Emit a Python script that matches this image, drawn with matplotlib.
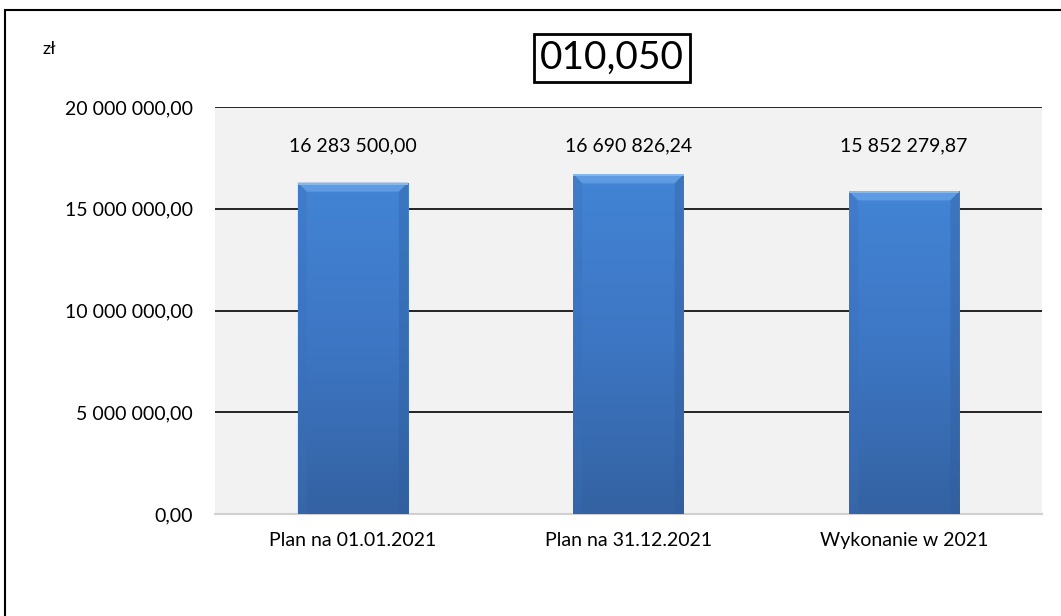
import matplotlib
matplotlib.use("Agg")
import matplotlib.pyplot as plt
import numpy as np
from matplotlib.patches import Rectangle, Polygon
from matplotlib.colors import LinearSegmentedColormap

categories = ["Plan na 01.01.2021", "Plan na 31.12.2021", "Wykonanie w 2021"]
values = [16283500.00, 16690826.24, 15852279.87]
yticks = [0, 5000000, 10000000, 15000000, 20000000]
title = "010,050"
unit = "zł"

plt.rcParams['font.family'] = ['Lato', 'DejaVu Sans']

W, H = 1061, 616
fig = plt.figure(figsize=(W/100, H/100), dpi=100)
fig.patch.set_facecolor("white")

left, right, top, bottom = 215, 1042, 107, 514
ax = fig.add_axes([left/W, 1-bottom/H, (right-left)/W, (bottom-top)/H])
ax.set_facecolor("#F2F2F2")

def fmt(v):
    s = f"{v:,.2f}"
    return s.replace(",", " ").replace(".", ",")

x = np.arange(len(categories))
bars = ax.bar(x, values, width=0.4, color="#4281D3", zorder=3, edgecolor="none")
ax.set_xlim(-0.5, len(categories)-0.5)
ax.set_ylim(0, 20000000)

cmap = LinearSegmentedColormap.from_list("b", ["#3462A2", "#3D76C3", "#4384D5"])
grad = np.linspace(0, 1, 256).reshape(-1, 1)
px_y = 20000000 / (bottom - top)
px_x = 3.0 / (right - left)
for b in bars:
    x0, w, h = b.get_x(), b.get_width(), b.get_height()
    im = ax.imshow(grad, extent=[x0, x0+w, 0, h], origin="lower", cmap=cmap,
                   aspect="auto", zorder=3.5)
    im.set_clip_path(b)
    d, dy = 9*px_x, 9*px_y
    ax.add_patch(Polygon([(x0, h), (x0+w, h), (x0+w-d, h-dy), (x0+d, h-dy)],
                         closed=True, color="#5F9BE3", zorder=4, lw=0))
    ax.add_patch(Rectangle((x0, h-2*px_y), w, 2*px_y, color="#86B8F0", zorder=4.1, lw=0))
    ax.add_patch(Polygon([(x0, h), (x0+d, h-dy), (x0+d, 0), (x0, 0)],
                         closed=True, color="#3A70B8", alpha=0.35, zorder=4, lw=0))
    ax.add_patch(Polygon([(x0+w, h), (x0+w-d, h-dy), (x0+w-d, 0), (x0+w, 0)],
                         closed=True, color="#2F5C9C", alpha=0.35, zorder=4, lw=0))
ax.set_xlim(-0.5, len(categories)-0.5)
ax.set_ylim(0, 20000000)

ax.set_yticks(yticks)
ax.set_yticklabels([fmt(t) for t in yticks], fontsize=14)
ax.yaxis.grid(True, color="black", lw=1.2, zorder=1)
ax.set_axisbelow(True)
ax.tick_params(axis="y", length=0, pad=16)
ax.set_xticks(x)
ax.set_xticklabels(categories, fontsize=14)
ax.tick_params(axis="x", length=0, pad=13)
for s in ["left", "right", "top"]:
    ax.spines[s].set_visible(False)
ax.spines["bottom"].set_color("#D0D0D0")
ax.spines["bottom"].set_linewidth(1.5)

for xi, v in zip(x, values):
    ax.text(xi, 18100000, fmt(v), ha="center", va="center", fontsize=14, zorder=5)

fig.text(612/W, 1-58/H, title, ha="center", va="center", fontsize=28,
         bbox=dict(boxstyle="square,pad=0.15", fc="white", ec="black", lw=2))
fig.text(49/W, 1-49/H, unit, ha="center", va="center", fontsize=13)

fig.add_artist(Rectangle((5/W, -0.1), 1.2, 1-10/H+0.1, transform=fig.transFigure,
                         fill=False, ec="black", lw=1.5))

fig.savefig("out.png", dpi=100)
